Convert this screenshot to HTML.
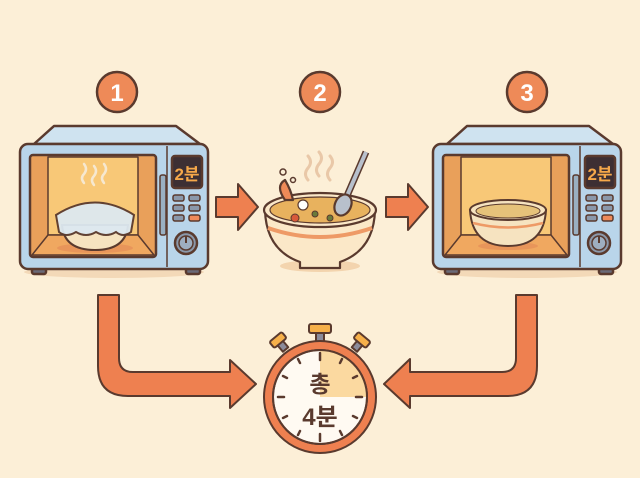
<!DOCTYPE html>
<html><head><meta charset="utf-8"><style>
html,body{margin:0;padding:0;background:#fcefd7;}
svg{display:block}
text{font-family:"Liberation Sans","Noto Sans CJK KR",sans-serif;font-weight:bold}
</style></head><body>
<svg width="640" height="478" viewBox="0 0 640 478" xmlns="http://www.w3.org/2000/svg">
<rect width="640" height="478" fill="#fcefd7"/>
<defs>
<g id="mw" stroke="#5a3a2e" stroke-width="2.5" stroke-linejoin="round">
  <ellipse cx="94" cy="272" rx="90" ry="6" fill="#f3d9b8" stroke="none"/>
  <rect x="12" y="265" width="14" height="9" rx="2" fill="#6a6a78"/>
  <rect x="166" y="265" width="14" height="9" rx="2" fill="#6a6a78"/>
  <path d="M14 144 L34 126 L156 126 L180 144 Z" fill="#cfe3f0"/>
  <rect x="0" y="144" width="188" height="125" rx="8" fill="#b9d5ea"/>
  <rect x="10" y="155" width="126" height="102" rx="3" fill="#e9a05a"/>
  <rect x="28" y="157" width="90" height="78" fill="#f8c877" stroke-width="1.5"/>
  <path d="M28 235 L118 235 L134 255 L12 255 Z" fill="#f0a860" stroke-width="1.5"/>
  <rect x="140" y="175" width="6" height="60" rx="2" fill="#9ab0c2" stroke-width="1.5"/>
  <line x1="147" y1="146" x2="147" y2="267" stroke-width="1.5"/>
  <rect x="152" y="156" width="30" height="32" rx="3" fill="#3d2f33"/>
  <text x="167" y="180" font-size="17" fill="#f6a84a" text-anchor="middle" stroke="none" font-weight="normal">2분</text>
  <g stroke-width="1.5" fill="#8b98aa">
    <rect x="153" y="195" width="11" height="6" rx="2"/><rect x="169" y="195" width="11" height="6" rx="2"/>
    <rect x="153" y="205" width="11" height="6" rx="2"/><rect x="169" y="205" width="11" height="6" rx="2"/>
    <rect x="153" y="215" width="11" height="6" rx="2"/><rect x="169" y="215" width="11" height="6" rx="2" fill="#ef8a5a"/>
  </g>
  <circle cx="166" cy="243" r="11" fill="#8b98aa"/>
  <circle cx="166" cy="243" r="7" fill="#9eaec0" stroke-width="1.5"/>
  <line x1="166" y1="243" x2="166" y2="236" stroke-width="2"/>
</g>
<g id="num">
  <circle r="20" fill="#ee8a58" stroke="#5a3a2e" stroke-width="2.5"/>
</g>
</defs>

<!-- numbers -->
<use href="#num" x="117" y="92"/><text x="117" y="101" font-size="24" fill="#fff" text-anchor="middle">1</text>
<use href="#num" x="320" y="92"/><text x="320" y="101" font-size="24" fill="#fff" text-anchor="middle">2</text>
<use href="#num" x="527" y="92"/><text x="527" y="101" font-size="24" fill="#fff" text-anchor="middle">3</text>

<!-- microwave 1 -->
<use href="#mw" x="20" y="0"/>
<g stroke="#5a3a2e" stroke-width="2">
  <ellipse cx="95" cy="248" rx="38" ry="5" fill="#e8955a" stroke="none"/>
  <path d="M62 225 Q64 250 95 250 Q126 250 128 225 Z" fill="#f6e3c0"/>
  <path d="M56 215 Q95 190 134 215 L131 232 Q123 238 116 232 Q106 238 96 232 Q86 238 76 232 Q66 238 59 232 Z" fill="#dde9f1" opacity="0.95"/>
</g>
<g fill="none" stroke="#f6e8d0" stroke-width="2.5" stroke-linecap="round">
  <path d="M84 183 q-4 -5 0 -9 q4 -5 0 -10"/><path d="M94 185 q-4 -5 0 -9 q4 -5 0 -10"/><path d="M104 183 q-4 -5 0 -9 q4 -5 0 -10"/>
</g>

<!-- microwave 3 -->
<use href="#mw" x="433" y="0"/>
<g stroke="#5a3a2e" stroke-width="2">
  <ellipse cx="508" cy="246" rx="30" ry="4" fill="#e8955a" stroke="none"/>
  <path d="M470 210 Q472 246 508 246 Q544 246 546 210 Z" fill="#f6e3c0"/>
  <ellipse cx="508" cy="210" rx="38" ry="10" fill="#f6e3c0"/>
  <ellipse cx="508" cy="211" rx="32" ry="7" fill="#e6c27a" stroke-width="1"/>
  <path d="M473 223 Q508 232 543 223" stroke="#ee9a66" stroke-width="2.5" fill="none"/>
</g>

<!-- right arrows -->
<g fill="#ee8050" stroke="#5a3a2e" stroke-width="2" stroke-linejoin="round">
  <path d="M216 197 L238 197 L238 184 L258 207 L238 230 L238 217 L216 217 Z"/>
  <path d="M386 197 L408 197 L408 184 L428 207 L408 230 L408 217 L386 217 Z"/>
</g>

<!-- bowl 2 -->
<g stroke="#5a3a2e" stroke-width="2.2" stroke-linejoin="round">
  <ellipse cx="320" cy="266" rx="40" ry="6" fill="#f3d4ae" stroke="none"/>
  <path d="M265 210 Q266 250 300 262 L300 268 L340 268 L340 262 Q374 250 375 210 Z" fill="#fbe8c8"/>
  <path d="M268 228 Q320 246 372 228" stroke="#ee9a66" stroke-width="4" fill="none"/>
  <ellipse cx="320" cy="210" rx="56" ry="17" fill="#fbe8c8"/>
  <ellipse cx="320" cy="210" rx="50" ry="13" fill="#e8b25e" stroke-width="1.2"/>
  <path d="M285 200 q-10 -14 0 -20 q6 10 8 20 z" fill="#ee8a58"/>
  <circle cx="303" cy="205" r="5" fill="#fff" stroke-width="1.2"/>
  <circle cx="315" cy="214" r="3" fill="#6a7a3a" stroke-width="1"/>
  <circle cx="330" cy="218" r="3" fill="#6a7a3a" stroke-width="1"/>
  <circle cx="295" cy="218" r="4" fill="#d85a3a" stroke-width="1"/>
  <path d="M340 212 L366 152" stroke-width="7" stroke="#5a3a2e"/>
  <path d="M340 212 L366 152" stroke-width="4" stroke="#b8c0cc"/>
  <ellipse cx="343" cy="205" rx="8" ry="11" fill="#b8c0cc" transform="rotate(25 343 205)"/>
  <circle cx="283" cy="172" r="3" fill="none" stroke-width="1.5"/>
  <circle cx="293" cy="180" r="2.5" fill="none" stroke-width="1.5"/>
</g>
<g fill="none" stroke="#e9c8a8" stroke-width="3" stroke-linecap="round">
  <path d="M308 180 q-5 -6 0 -12 q5 -6 0 -12"/><path d="M319 176 q-5 -6 0 -12 q5 -6 0 -12"/><path d="M330 180 q-5 -6 0 -12 q5 -6 0 -12"/>
</g>

<!-- L arrows -->
<g fill="#ee8050" stroke="#5a3a2e" stroke-width="2" stroke-linejoin="round">
  <path d="M98 295 L119 295 L119 358 Q119 372 133 372 L230 372 L230 360 L256 384 L230 408 L230 396 L128 396 Q98 396 98 366 Z"/>
  <path d="M537 295 L516 295 L516 358 Q516 372 502 372 L410 372 L410 359 L384 384 L410 408 L410 396 L507 396 Q537 396 537 366 Z"/>
</g>

<!-- stopwatch -->
<g stroke="#5a3a2e" stroke-width="2" stroke-linejoin="round">
  <rect x="316" y="330" width="8" height="12" fill="#8b8b9a"/>
  <rect x="309" y="324" width="22" height="9" rx="2" fill="#f6b04a"/>
  <rect x="279" y="342" width="7" height="9" fill="#8b8b9a" transform="rotate(-40 282 346)"/>
  <rect x="270" y="336" width="16" height="8" rx="2" fill="#f6b04a" transform="rotate(-40 278 340)"/>
  <rect x="354" y="342" width="7" height="9" fill="#8b8b9a" transform="rotate(40 358 346)"/>
  <rect x="354" y="336" width="16" height="8" rx="2" fill="#f6b04a" transform="rotate(40 362 340)"/>
  <circle cx="320" cy="397" r="56" fill="#ee8050"/>
  <circle cx="320" cy="397" r="47" fill="#fffaf2"/>
  <path d="M320 397 L320 350 A47 47 0 0 1 367 397 Z" fill="#fbd9a0" stroke="none"/>
  <circle cx="320" cy="397" r="47" fill="none"/>
</g>
<g stroke="#5a3a2e" stroke-width="2.5" stroke-linecap="round">
  <line x1="320" y1="353" x2="320" y2="360"/><line x1="320" y1="434" x2="320" y2="441"/>
  <line x1="278" y1="397" x2="284" y2="397"/><line x1="356" y1="397" x2="362" y2="397"/>
  <line x1="298" y1="359" x2="300" y2="363"/><line x1="342" y1="359" x2="340" y2="363"/>
  <line x1="283" y1="376" x2="287" y2="378"/><line x1="357" y1="376" x2="353" y2="378"/>
  <line x1="283" y1="418" x2="287" y2="416"/><line x1="357" y1="418" x2="353" y2="416"/>
  <line x1="298" y1="435" x2="300" y2="431"/><line x1="342" y1="435" x2="340" y2="431"/>
</g>
<text x="320" y="392" font-size="23" fill="#5a3a2e" text-anchor="middle">총</text>
<text x="320" y="425" font-size="24" fill="#5a3a2e" text-anchor="middle">4분</text>
</svg>
</body></html>
